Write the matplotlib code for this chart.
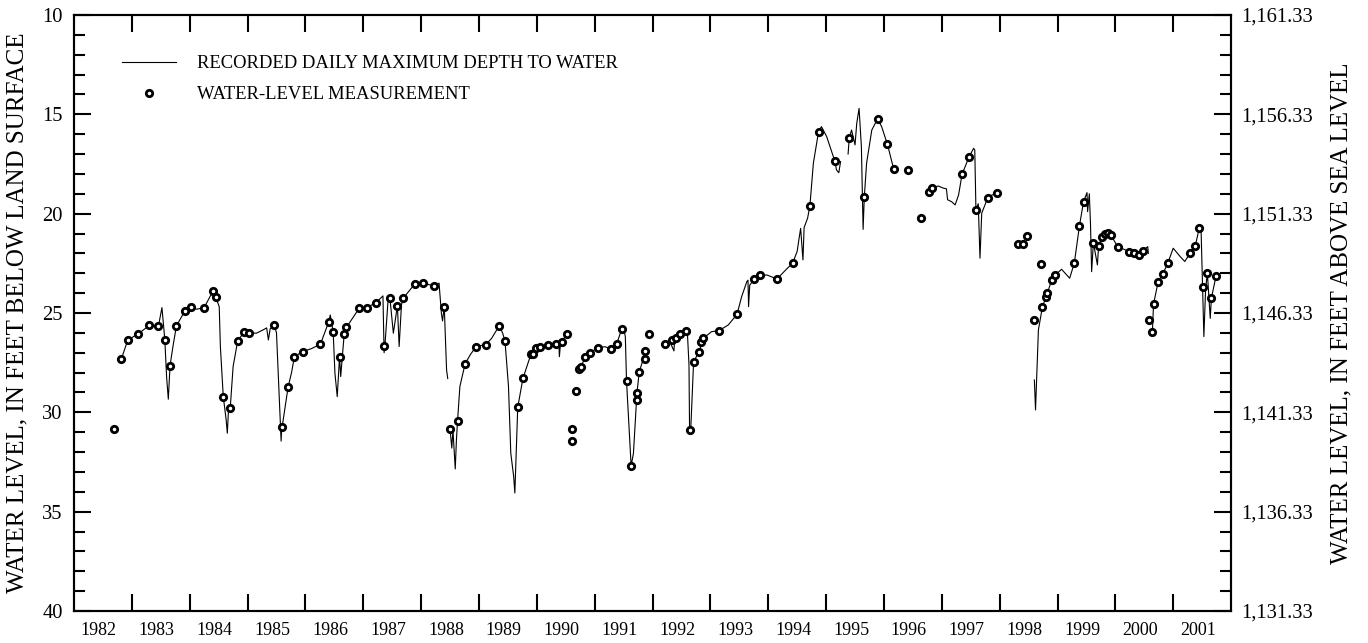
import numpy as np
import matplotlib
matplotlib.use("Agg")
import matplotlib.pyplot as plt
from matplotlib.ticker import MultipleLocator, FixedLocator, FuncFormatter, NullFormatter

plt.rcParams['font.family'] = ['Liberation Serif', 'DejaVu Serif']

# recorded daily maximum depth to water (ft below land surface), nan = no record
rec_year = [
    1982.82, 1982.93, 1983.11, 1983.30, 1983.46, 1983.52, 1983.57, 1983.60, 1983.63, 1983.66,
    1983.71, 1983.77, 1983.92, 1984.02, 1984.12, 1984.25, 1984.35, 1984.41, 1984.45, 1984.51,
    1984.53, 1984.58, 1984.63, 1984.65, 1984.67, 1984.70, 1984.75, 1984.83, 1984.94, 1985.03,
    1985.15, 1985.27, 1985.33, 1985.36, 1985.39, 1985.46, 1985.50, 1985.56, 1985.58, 1985.59,
    1985.61, 1985.70, 1985.76, 1985.81, 1985.95, 1986.10, 1986.26, 1986.40, 1986.43, 1986.48,
    1986.51, 1986.55, 1986.59, 1986.61, 1986.67, 1986.71, 1986.93, 1987.06, 1987.22, 1987.34,
    1987.36, 1987.38, 1987.43, 1987.46, 1987.52, 1987.59, 1987.62, 1987.66, 1987.69, 1987.89,
    1988.03, 1988.23, 1988.31, 1988.35, 1988.37, 1988.40, 1988.44, 1988.46, np.nan,
    1988.50, 1988.53, 1988.55, 1988.59, 1988.61, 1988.63, 1988.67, 1988.76, 1988.85, 1988.95,
    1989.12, 1989.22, 1989.35, 1989.41, 1989.45, 1989.51, 1989.55, 1989.60, 1989.62, 1989.67,
    1989.76, 1989.90, 1989.99, 1990.06, 1990.19, 1990.33, 1990.38, 1990.39, 1990.41, 1990.43,
    1990.52, np.nan,
    1990.73, 1990.76, 1990.84, 1990.92, 1991.06, 1991.18, 1991.29, 1991.38, 1991.47, 1991.50,
    1991.53, 1991.55, 1991.63, 1991.67, 1991.73, 1991.77, 1991.82, 1991.87, np.nan,
    1992.22, 1992.30, 1992.37, 1992.38, 1992.41, 1992.48, 1992.58, 1992.60, 1992.63, 1992.64,
    1992.66, 1992.71, 1992.80, 1992.88, 1993.02, 1993.15, 1993.31, 1993.46, 1993.54, 1993.63,
    1993.65, 1993.66, 1993.68, 1993.76, 1993.85, 1993.98, 1994.15, 1994.33, 1994.42, 1994.50,
    1994.53, 1994.56, 1994.60, 1994.62, 1994.68, 1994.72, 1994.78, 1994.87, 1994.92, 1995.01,
    1995.15, 1995.18, 1995.22, 1995.25, np.nan,
    1995.38, 1995.40, 1995.44, 1995.50, 1995.53, 1995.57, 1995.61, 1995.64, 1995.66, 1995.70,
    1995.79, 1995.89, 1995.96, 1996.06, 1996.17, np.nan,
    1996.78, 1996.83, 1996.94, 1997.03, 1997.08, 1997.10, 1997.17, 1997.23, 1997.29, 1997.35,
    1997.47, 1997.55, 1997.57, 1997.59, 1997.63, 1997.66, 1997.69, 1997.79, 1997.87, 1997.96,
    np.nan,
    1998.60, 1998.62, 1998.67, 1998.74, 1998.80, 1998.90, 1998.96, 1999.07, 1999.16, 1999.21,
    1999.29, 1999.38, 1999.45, 1999.51, 1999.52, 1999.55, 1999.57, 1999.59, 1999.62, 1999.69,
    1999.71, 1999.77, 1999.82, 1999.88, 1999.92, 2000.04, 2000.24, 2000.33, 2000.41, 2000.48,
    2000.56, 2000.57, np.nan,
    2000.64, 2000.66, 2000.74, 2000.82, 2000.91, 2001.00, 2001.12, 2001.20, 2001.29, 2001.38,
    2001.45, 2001.48, 2001.53, 2001.56, 2001.59, 2001.64, 2001.66, 2001.74,
]
rec_depth = [
    27.30, 26.36, 26.05, 25.63, 25.65, 24.73, 26.36, 28.20, 29.34, 27.65,
    26.69, 25.65, 24.88, 24.71, 24.81, 24.73, 24.18, 23.89, 24.21, 24.68,
    26.69, 29.21, 30.38, 31.05, 29.90, 29.80, 27.70, 26.39, 25.97, 25.99,
    26.02, 25.85, 25.75, 26.36, 25.80, 25.60, 26.00, 30.04, 31.45, 30.72,
    30.50, 28.74, 28.00, 27.20, 26.94, 26.80, 26.57, 25.47, 25.10, 25.97,
    28.03, 29.21, 27.20, 28.20, 26.07, 25.72, 24.76, 24.73, 24.48, 24.14,
    27.00, 26.40, 24.30, 24.23, 26.02, 24.63, 26.69, 24.60, 24.26, 23.54,
    23.50, 23.64, 23.50, 25.00, 25.40, 24.68, 27.87, 28.30, np.nan,
    30.85, 31.80, 30.90, 32.85, 31.40, 30.42, 28.70, 27.56, 27.10, 26.69,
    26.59, 26.27, 25.64, 26.02, 26.42, 28.70, 32.06, 33.24, 34.06, 29.75,
    28.29, 27.06, 26.78, 26.69, 26.63, 26.56, 26.50, 27.20, 26.50, 26.44,
    26.05, np.nan,
    27.83, 27.70, 27.23, 27.00, 26.74, 26.70, 26.81, 26.56, 25.79, 25.75,
    26.20, 28.40, 32.70, 32.06, 29.04, 27.97, 27.50, 26.91, np.nan,
    26.57, 26.45, 26.91, 26.40, 26.27, 26.05, 25.90, 25.85, 27.60, 30.89,
    30.90, 27.45, 26.98, 26.27, 25.94, 25.89, 25.60, 25.07, 24.18, 23.42,
    23.35, 24.68, 23.60, 23.29, 23.09, 23.09, 23.29, 22.75, 22.50, 21.90,
    21.30, 20.74, 22.33, 20.70, 20.23, 19.61, 17.46, 15.87, 15.62, 16.12,
    17.35, 17.80, 17.94, 17.38, np.nan,
    17.00, 16.21, 15.79, 16.54, 15.45, 14.70, 16.63, 20.79, 19.18, 17.46,
    15.79, 15.23, 15.62, 16.51, 17.77, np.nan,
    18.89, 18.69, 18.61, 18.72, 18.75, 19.30, 19.40, 19.56, 19.06, 18.02,
    17.15, 16.71, 16.80, 19.81, 19.50, 22.24, 19.98, 19.23, 19.06, 18.98,
    np.nan,
    28.37, 29.88, 25.85, 24.68, 24.21, 23.34, 23.09, 22.80, 23.09, 23.25,
    22.50, 20.60, 19.40, 18.94, 19.90, 19.00, 20.50, 22.92, 21.46, 22.58,
    21.63, 21.16, 21.02, 20.99, 21.07, 21.66, 21.91, 21.96, 22.08, 21.86,
    21.66, 22.00, np.nan,
    25.97, 24.56, 23.42, 23.04, 22.46, 21.74, 22.16, 22.41, 21.99, 21.63,
    20.74, 20.65, 26.19, 23.80, 22.97, 25.27, 24.26, 23.14,
]

# periodic water-level measurements
meas_year = [
    1982.69, 1982.82, 1982.93, 1983.11, 1983.30, 1983.46, 1983.57, 1983.66, 1983.77, 1983.92,
    1984.02, 1984.25, 1984.41, 1984.45, 1984.58, 1984.70, 1984.83, 1984.94, 1985.03, 1985.46,
    1985.59, 1985.70, 1985.81, 1985.95, 1986.26, 1986.40, 1986.48, 1986.59, 1986.67, 1986.71,
    1986.93, 1987.06, 1987.22, 1987.36, 1987.46, 1987.59, 1987.69, 1987.89, 1988.03, 1988.23,
    1988.40, 1988.50, 1988.63, 1988.76, 1988.95, 1989.12, 1989.35, 1989.45, 1989.67, 1989.76,
    1989.90, 1989.94, 1989.99, 1990.06, 1990.19, 1990.33, 1990.43, 1990.52, 1990.60, 1990.60,
    1990.68, 1990.73, 1990.76, 1990.84, 1990.92, 1991.06, 1991.29, 1991.38, 1991.47, 1991.55,
    1991.63, 1991.73, 1991.73, 1991.77, 1991.87, 1991.87, 1991.94, 1992.22, 1992.33, 1992.41,
    1992.48, 1992.58, 1992.64, 1992.71, 1992.80, 1992.84, 1992.88, 1993.15, 1993.46, 1993.76,
    1993.85, 1994.15, 1994.42, 1994.72, 1994.87, 1995.15, 1995.40, 1995.66, 1995.89, 1996.06,
    1996.17, 1996.41, 1996.64, 1996.78, 1996.83, 1997.35, 1997.47, 1997.59, 1997.79, 1997.96,
    1998.31, 1998.41, 1998.48, 1998.59, 1998.71, 1998.74, 1998.80, 1998.81, 1998.90, 1998.96,
    1999.29, 1999.38, 1999.45, 1999.62, 1999.71, 1999.77, 1999.82, 1999.88, 1999.92, 2000.04,
    2000.24, 2000.33, 2000.41, 2000.48, 2000.59, 2000.64, 2000.66, 2000.74, 2000.82, 2000.91,
    2001.29, 2001.38, 2001.45, 2001.51, 2001.59, 2001.66, 2001.74,
]
meas_depth = [
    30.85, 27.30, 26.36, 26.05, 25.63, 25.65, 26.36, 27.65, 25.65, 24.88,
    24.71, 24.73, 23.89, 24.21, 29.21, 29.80, 26.39, 25.97, 25.99, 25.60,
    30.72, 28.74, 27.20, 26.94, 26.57, 25.47, 25.97, 27.20, 26.07, 25.72,
    24.76, 24.73, 24.48, 26.64, 24.23, 24.63, 24.26, 23.54, 23.50, 23.64,
    24.68, 30.85, 30.42, 27.56, 26.69, 26.59, 25.64, 26.42, 29.75, 28.29,
    27.06, 27.08, 26.78, 26.69, 26.63, 26.56, 26.44, 26.05, 30.83, 31.42,
    28.91, 27.83, 27.70, 27.23, 27.00, 26.74, 26.81, 26.56, 25.79, 28.40,
    32.70, 29.04, 29.38, 27.97, 26.91, 27.33, 26.07, 26.57, 26.36, 26.27,
    26.05, 25.90, 30.89, 27.45, 26.98, 26.44, 26.27, 25.89, 25.07, 23.29,
    23.09, 23.29, 22.50, 19.61, 15.87, 17.35, 16.21, 19.18, 15.23, 16.51,
    17.77, 17.80, 20.20, 18.89, 18.69, 18.02, 17.15, 19.81, 19.23, 18.98,
    21.54, 21.54, 21.11, 25.35, 22.55, 24.68, 24.21, 23.97, 23.34, 23.09,
    22.50, 20.60, 19.40, 21.46, 21.63, 21.16, 21.02, 20.99, 21.07, 21.66,
    21.91, 21.96, 22.08, 21.86, 25.35, 25.97, 24.56, 23.42, 23.04, 22.46,
    21.99, 21.63, 20.74, 23.71, 22.97, 24.26, 23.14,
]

years = list(range(1982, 2002))
land_surface = 1171.33  # altitude of land surface, ft above sea level

fig = plt.figure(figsize=(13.68, 6.43), dpi=100)
ax = fig.add_axes([0.0541, 0.0498, 0.8458, 0.9269])

ax.plot(rec_year, rec_depth, color="black", lw=0.8,
        label="RECORDED DAILY MAXIMUM DEPTH TO WATER")
ax.plot(meas_year, meas_depth, "o", ms=4.6, mfc="white", mec="black", mew=2.0,
        label="WATER-LEVEL MEASUREMENT")

ax.set_xlim(1982, 2002)
ax.set_ylim(40, 10)

# year boundaries as ticks, year names in between
ax.xaxis.set_major_locator(FixedLocator(years[1:]))
ax.xaxis.set_major_formatter(NullFormatter())
ax.xaxis.set_minor_locator(FixedLocator([y + 0.43 for y in years]))
ax.xaxis.set_minor_formatter(FuncFormatter(lambda v, p: "%d" % int(v)))
ax.tick_params(axis="x", which="major", direction="in", length=12, width=1.5,
               top=True, bottom=True)
ax.tick_params(axis="x", which="minor", length=0, pad=8, labelsize=13)

ax.yaxis.set_major_locator(MultipleLocator(5))
ax.yaxis.set_minor_locator(MultipleLocator(1))
ax.tick_params(axis="y", which="major", direction="in", length=12, width=1.5,
               labelsize=14.8, pad=8)
ax.tick_params(axis="y", which="minor", direction="in", length=8, width=1.5)
ax.set_ylabel("WATER LEVEL, IN FEET BELOW LAND SURFACE", fontsize=18, labelpad=10)

for s in ax.spines.values():
    s.set_linewidth(1.5)

# altitude scale on the right
ax2 = ax.twinx()
ax2.set_ylim(land_surface - 40, land_surface - 10)
ax2.yaxis.set_major_locator(FixedLocator([land_surface - d for d in range(10, 41, 5)]))
ax2.yaxis.set_minor_locator(FixedLocator([land_surface - d for d in range(10, 41)]))
ax2.yaxis.set_major_formatter(FuncFormatter(lambda v, p: "{:,.2f}".format(v)))
ax2.tick_params(axis="y", which="major", direction="in", length=12, width=1.5,
                labelsize=14.8, pad=7)
ax2.tick_params(axis="y", which="minor", direction="in", length=8, width=1.5)
ax2.set_ylabel("WATER LEVEL, IN FEET ABOVE SEA LEVEL", fontsize=18, labelpad=13)
for s in ax2.spines.values():
    s.set_linewidth(1.5)

ax.legend(loc="upper left", bbox_to_anchor=(0.035, 0.945), frameon=False,
          fontsize=13.4, handlelength=2.9, handletextpad=1.13, labelspacing=0.75,
          borderaxespad=0)

fig.savefig("out.png", dpi=100)
